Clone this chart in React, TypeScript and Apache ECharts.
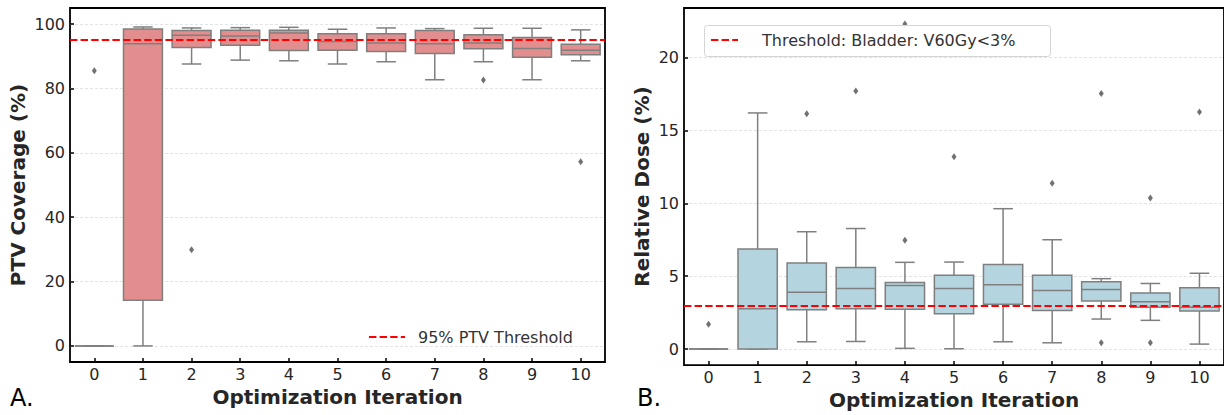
import React, { useEffect, useRef } from "react";
import * as echarts from "echarts";

const categories = ["0", "1", "2", "3", "4", "5", "6", "7", "8", "9", "10"];

// PTV coverage (%) box statistics per iteration
const ptvMin = [0, 0, 87.6, 88.8, 88.6, 87.6, 88.3, 82.7, 88.3, 82.7, 88.6];
const ptvQ1 = [0, 14.2, 92.7, 93.4, 91.8, 91.9, 91.5, 90.9, 92.3, 89.7, 90.5];
const ptvMedian = [0, 93.9, 96.5, 96.3, 97.2, 94.6, 94.1, 93.9, 94.1, 92.4, 91.9];
const ptvQ3 = [0, 98.5, 98.0, 98.1, 98.1, 97.0, 97.0, 98.0, 96.7, 95.8, 93.7];
const ptvMax = [0, 99.1, 98.8, 98.9, 99.0, 98.4, 98.8, 98.6, 98.7, 98.7, 98.2];
const ptvOutliers = [
  [0, 85.5],
  [2, 29.9],
  [8, 82.6],
  [10, 57.2],
];
const ptvThreshold = 95;

// Relative dose (%) box statistics per iteration
const doseMin = [0, 0, 0.5, 0.52, 0.05, 0.02, 0.5, 0.43, 2.06, 1.97, 0.34];
const doseQ1 = [0, 0, 2.69, 2.76, 2.73, 2.42, 3.07, 2.64, 3.3, 2.87, 2.62];
const doseMedian = [0, 2.76, 3.89, 4.16, 4.36, 4.16, 4.41, 4.02, 4.09, 3.25, 2.87];
const doseQ3 = [0, 6.87, 5.9, 5.6, 4.56, 5.06, 5.81, 5.06, 4.61, 3.84, 4.2];
const doseMax = [0, 16.2, 8.05, 8.27, 5.95, 5.97, 9.63, 7.5, 4.83, 4.5, 5.2];
const doseOutliers = [
  [0, 1.7],
  [2, 16.15],
  [3, 17.7],
  [4, 7.46],
  [4, 22.3],
  [5, 13.2],
  [7, 11.37],
  [8, 0.43],
  [8, 17.54],
  [9, 0.43],
  [9, 10.37],
  [10, 16.27],
];
const doseThreshold = 3;

const ptvTicks = [0, 20, 40, 60, 80, 100];
const doseTicks = [0, 5, 10, 15, 20];

const FONT = "DejaVu Sans";
const EDGE = "#7f7f7f";
const TXT = "#262626";

function boxRows(mn: number[], q1: number[], md: number[], q3: number[], mx: number[]) {
  return categories.map((_, i) => [i, mn[i], q1[i], md[i], q3[i], mx[i]]);
}

function makeRender(fill: string) {
  return (params: any, api: any) => {
    const x = api.value(0);
    const lo = api.coord([x, api.value(1)]);
    const q1 = api.coord([x, api.value(2)]);
    const md = api.coord([x, api.value(3)]);
    const q3 = api.coord([x, api.value(4)]);
    const hi = api.coord([x, api.value(5)]);
    const bw = api.size([1, 0])[0] * 0.8;
    const half = bw / 2;
    const cap = bw / 4;
    const cx = q1[0];
    const ls = { stroke: EDGE, lineWidth: 1.5, fill: null };
    return {
      type: "group",
      children: [
        { type: "line", shape: { x1: cx, y1: q1[1], x2: cx, y2: lo[1] }, style: ls },
        { type: "line", shape: { x1: cx, y1: q3[1], x2: cx, y2: hi[1] }, style: ls },
        { type: "line", shape: { x1: cx - cap, y1: lo[1], x2: cx + cap, y2: lo[1] }, style: ls },
        { type: "line", shape: { x1: cx - cap, y1: hi[1], x2: cx + cap, y2: hi[1] }, style: ls },
        {
          type: "rect",
          shape: { x: cx - half, y: q3[1], width: bw, height: q1[1] - q3[1] },
          style: { fill, stroke: EDGE, lineWidth: 1.5 },
        },
        { type: "line", shape: { x1: cx - half, y1: md[1], x2: cx + half, y2: md[1] }, style: ls },
      ],
    };
  };
}

function xAxisCfg(gridIndex: number, gap: number) {
  return {
    type: "category",
    gridIndex,
    data: categories,
    boundaryGap: true,
    position: "bottom",
    name: "Optimization Iteration",
    nameLocation: "middle",
    nameGap: gap,
    nameTextStyle: { fontFamily: FONT, fontSize: 20, fontWeight: "bold", color: TXT },
    axisLine: { show: false, onZero: false },
    axisTick: { show: true, inside: true, alignWithLabel: true, length: 4, interval: 0, lineStyle: { color: "#000", width: 1.5 } },
    axisLabel: { interval: 0, margin: 4, fontFamily: FONT, fontSize: 16, color: TXT },
    splitLine: { show: false },
  };
}

function yAxisCfg(gridIndex: number, min: number, max: number, ticks: number[], name: string, gap: number) {
  return {
    type: "value",
    gridIndex,
    min,
    max,
    splitNumber: 5,
    name,
    nameLocation: "middle",
    nameGap: gap,
    nameTextStyle: { fontFamily: FONT, fontSize: 20, fontWeight: "bold", color: TXT },
    axisLine: { show: false, onZero: false },
    axisTick: { show: true, inside: true, length: 4, customValues: ticks, lineStyle: { color: "#000", width: 1.5 } },
    axisLabel: { margin: 5, customValues: ticks, fontFamily: FONT, fontSize: 16, color: TXT },
    splitLine: { show: true, lineStyle: { color: "#e3e3e3", type: [3, 2], width: 1 } },
  };
}

function thresholdLine(value: number) {
  return {
    silent: true,
    symbol: "none",
    label: { show: false },
    lineStyle: { color: "#ff0000", type: [7.4, 3.2], width: 2 },
    data: [{ yAxis: value }],
  };
}

export default function App() {
  const ref = useRef<HTMLDivElement>(null);
  useEffect(() => {
    if (!ref.current) return;
    const chart = echarts.init(ref.current, null, { renderer: "svg" });
    chart.setOption({
      animation: false,
      backgroundColor: "#fff",
      grid: [
        { left: 70, top: 8, width: 535, height: 354, show: true, borderColor: "#000", borderWidth: 1.8, backgroundColor: "transparent" },
        { left: 684, top: 8, width: 544, height: 362, show: true, borderColor: "#000", borderWidth: 1.8, backgroundColor: "transparent" },
      ],
      xAxis: [xAxisCfg(0, 22), xAxisCfg(1, 21)],
      yAxis: [
        yAxisCfg(0, -5, 105, ptvTicks, "PTV Coverage (%)", 42),
        yAxisCfg(1, -1.1, 23.4, doseTicks, "Relative Dose (%)", 32),
      ],
      series: [
        {
          type: "custom",
          name: "PTV Coverage",
          xAxisIndex: 0,
          yAxisIndex: 0,
          z: 2,
          renderItem: makeRender("#e28e8e"),
          encode: { x: 0, y: [1, 2, 3, 4, 5] },
          data: boxRows(ptvMin, ptvQ1, ptvMedian, ptvQ3, ptvMax),
        },
        {
          type: "scatter",
          name: "PTV outliers",
          xAxisIndex: 0,
          yAxisIndex: 0,
          z: 3,
          symbol: "diamond",
          symbolSize: [5, 7],
          itemStyle: { color: "#4d4d4d" },
          data: ptvOutliers,
          markLine: thresholdLine(ptvThreshold),
        },
        {
          type: "custom",
          name: "Relative Dose",
          xAxisIndex: 1,
          yAxisIndex: 1,
          z: 2,
          renderItem: makeRender("#b4d4df"),
          encode: { x: 0, y: [1, 2, 3, 4, 5] },
          data: boxRows(doseMin, doseQ1, doseMedian, doseQ3, doseMax),
        },
        {
          type: "scatter",
          name: "Dose outliers",
          xAxisIndex: 1,
          yAxisIndex: 1,
          z: 3,
          symbol: "diamond",
          symbolSize: [5, 7],
          itemStyle: { color: "#4d4d4d" },
          data: doseOutliers,
          markLine: thresholdLine(doseThreshold),
        },
      ],
      graphic: [
        // left legend
        {
          type: "line",
          z: 100,
          shape: { x1: 369, y1: 337, x2: 405, y2: 337 },
          style: { stroke: "#ff0000", lineWidth: 2, lineDash: [7.4, 3.2] },
        },
        {
          type: "text",
          z: 100,
          x: 418,
          y: 337,
          style: { text: "95% PTV Threshold", fontFamily: FONT, fontSize: 16, fill: "#333", verticalAlign: "middle", align: "left" },
        },
        // right legend
        {
          type: "rect",
          z: 100,
          shape: { x: 704.5, y: 25.5, width: 346, height: 31, r: 3 },
          style: { fill: "rgba(255,255,255,0.85)", stroke: "#d5d5d5", lineWidth: 1 },
        },
        {
          type: "line",
          z: 101,
          shape: { x1: 711, y1: 40, x2: 738, y2: 40 },
          style: { stroke: "#ff0000", lineWidth: 2, lineDash: [7.4, 3.2] },
        },
        {
          type: "text",
          z: 101,
          x: 762,
          y: 40,
          style: { text: "Threshold: Bladder: V60Gy<3%", fontFamily: FONT, fontSize: 16, fill: "#333", verticalAlign: "middle", align: "left" },
        },
        // panel labels
        {
          type: "text",
          x: 10,
          y: 398,
          style: { text: "A.", fontFamily: FONT, fontSize: 24, fill: "#000", verticalAlign: "middle", align: "left" },
        },
        {
          type: "text",
          x: 637,
          y: 398,
          style: { text: "B.", fontFamily: FONT, fontSize: 24, fill: "#000", verticalAlign: "middle", align: "left" },
        },
      ],
    });
    return () => chart.dispose();
  }, []);
  return <div ref={ref} style={{ position: "fixed", left: 0, top: 0, width: 1224, height: 415 }} />;
}
